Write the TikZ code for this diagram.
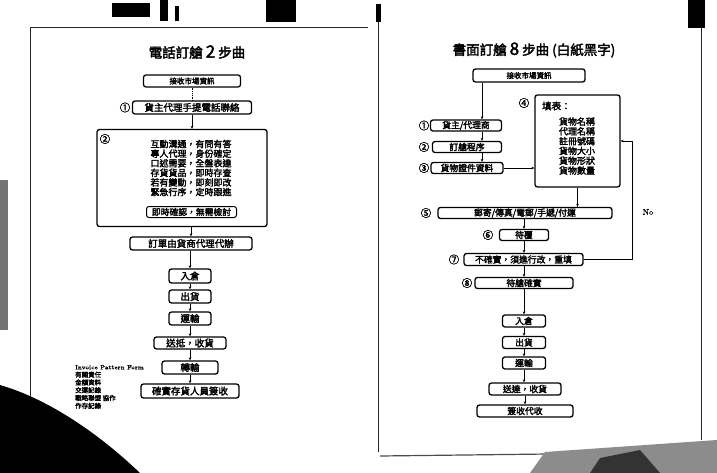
\documentclass[tikz,border=0pt]{standalone}
\usepackage{fontspec}
\newfontfamily\cjk[FakeBold=2.4]{Noto Sans CJK TC}
\newfontfamily\legfont[FakeBold=2]{Latin Modern Roman}
\usetikzlibrary{arrows.meta}
\begin{document}
\begin{tikzpicture}[x=1pt,y=-1pt,
  box/.style={draw, line width=1.3pt, rounded corners=2.5pt, inner sep=0pt,
    font=\cjk\fontsize{9.5}{10}\selectfont, align=center},
  rbox/.style={box, font=\cjk\fontsize{8.8}{9.5}\selectfont},
  smallbox/.style={box, font=\cjk\fontsize{7.5}{8}\selectfont},
  conn/.style={line width=0.8pt, -{Stealth[length=3pt,width=2.6pt]}},
  plain/.style={line width=0.8pt},
  num/.style={font=\cjk\fontsize{10.5}{10.5}\selectfont, inner sep=0pt},
  ttl/.style={font=\cjk\fontsize{13.5}{13.5}\selectfont, inner sep=0pt},
  edge/.style={line width=0.9pt, black!85},
  blob/.style={fill=black}]
\useasboundingbox (0,0) rectangle (717,473);
\fill[white] (0,0) rectangle (717,473);

% ---------- scan decorations ----------
\draw[edge] (30,28) -- (30,446);
\draw[edge] (30,27) -- (368,27);
\draw[edge] (378,22) -- (378,452);
\draw[edge] (701,28) -- (701,440);
\draw[line width=1.2pt, black!70] (380,456) -- (717,452);
\fill[blob] (112,3) rectangle (150,17);
\fill[blob] (160,0) rectangle (168,21);
\fill[blob] (175,6) rectangle (179,21);
\fill[blob] (266,0) rectangle (296,22);
\fill[blob] (376,4) rectangle (381,22);
\fill[blob] (688,0) rectangle (705,28);
\fill[blob] (0,385) .. controls (45,398) and (95,430) .. (140,473) -- (0,473) -- cycle;
\fill[black!55] (0,180) rectangle (8,330);
\fill[black!45] (545,452) -- (717,440) -- (717,473) -- (530,473) -- cycle;
\fill[black!80] (600,458) -- (640,450) -- (660,473) -- (590,473) -- cycle;

% ---------- left page ----------
\node[ttl] (ltitle) at (197,52) {電話訂艙 {\fontsize{17}{17}\selectfont 2} 步曲};

\node[smallbox, minimum width=97pt, minimum height=12pt] (l0) at (192,81) {接收市場資訊};
\node[box, minimum width=119pt, minimum height=13pt] (l1) at (192,107.5) {貨主代理手提電話聯絡};
\node[num] (n1) at (125,107.5) {①};

\node[draw, line width=1.3pt, rounded corners=2.5pt, minimum width=170pt, minimum height=97pt, inner sep=0pt] (l2) at (182,178) {};
\node[num] (n2) at (105,139) {②};
\node[font=\cjk\fontsize{9}{9.6}\selectfont, align=center, inner sep=0pt] (l2t) at (191,168)
  {互動溝通，有問有答\\專人代理，身份確定\\口述需要，全盤表達\\存貨貨品，即時存查\\若有變動，即刻即改\\緊急行序，定時跟進};
\node[box, line width=1pt, font=\cjk\fontsize{8.8}{9}\selectfont, minimum width=90pt, minimum height=11pt] (l2b) at (191.5,212) {即時確認，無需檢討};

\node[box, minimum width=122pt, minimum height=13pt] (l3) at (191,243.5) {訂單由貨商代理代辦};
\node[box, minimum width=42pt, minimum height=14pt] (l4) at (190,276) {入倉};
\node[box, minimum width=42pt, minimum height=13pt] (l5) at (190,296.5) {出貨};
\node[box, minimum width=42pt, minimum height=13pt] (l6) at (190,318.5) {運輸};
\node[box, minimum width=72pt, minimum height=12pt] (l7) at (190,343) {送抵，收貨};
\node[box, minimum width=56pt, minimum height=13pt] (l8) at (190,367.5) {轉輸};
\node[box, minimum width=98pt, minimum height=14pt] (l9) at (190,391) {確實存貨人員簽收};

\draw[plain, densely dotted] (l0.south) -- (l1.north);
\draw[conn] (l1.south) -- (l1.south |- l2.north);
\draw[conn] (l3.north |- l2.south) -- (l3.north);
\draw[conn] (l3.south -| l4.north) -- (l4.north);
\draw[conn] (l4.south) -- (l5.north);
\draw[conn] (l5.south) -- (l6.north);
\draw[conn] (l6.south) -- (l7.north -| l6.south);
\draw[conn] (l7.south -| l8.north) -- (l8.north);
\draw[conn] (l8.south) -- (l9.north -| l8.south);

\node[anchor=north west, align=left, inner sep=0pt, font=\cjk\fontsize{6.5}{7.8}\selectfont] (leg) at (75,365)
  {{\legfont\fontsize{6}{7.8}\selectfont Invoice Pattern Form}\\有關責任\\金額資料\\交運記錄\\戰略聯盟 協作\\作存記錄};

% ---------- right page ----------
\node[ttl] (rtitle) at (534,50) {書面訂艙 {\fontsize{17}{17}\selectfont 8} 步曲 (白紙黑字)};

\coordinate (ax) at (482,0);
\coordinate (fb) at (632,0);

\node[smallbox, minimum width=112pt, minimum height=13pt] (r0) at (529,75.5) {接收市場資訊};
\node[rbox, minimum width=71pt, minimum height=11pt] (r1) at (466,125.5) {貨主/代理商};
\node[num] (m1) at (424,125.5) {①};
\node[rbox, minimum width=69pt, minimum height=11pt] (r2) at (467,147) {訂艙程序};
\node[num] (m2) at (424,147) {②};
\node[rbox, minimum width=72pt, minimum height=11pt] (r3) at (467,168) {貨物證件資料};
\node[num] (m3) at (424,168) {③};

\node[draw, line width=1.3pt, rounded corners=2.5pt, minimum width=85pt, minimum height=92pt, inner sep=0pt] (r4) at (577.5,141) {};
\node[num] (m4) at (524,103) {④};
\node[font=\cjk\fontsize{9.5}{9.5}\selectfont, anchor=west, inner sep=0pt] (r4h) at (542,106) {填表：};
\node[font=\cjk\fontsize{9}{9.8}\selectfont, align=center, inner sep=0pt] (r4t) at (577,146)
  {貨物名稱\\代理名稱\\註冊號碼\\貨物大小\\貨物形狀\\貨物數量};

\node[rbox, minimum width=174pt, minimum height=11pt] (r5) at (525,213) {郵寄/傳真/電郵/手遞/付運};
\node[num] (m5) at (426,213) {⑤};
\node[rbox, minimum width=49pt, minimum height=11pt] (r6) at (524,235) {待覆};
\node[num] (m6) at (488,235) {⑥};
\node[rbox, minimum width=119pt, minimum height=12pt] (r7) at (523.5,259.5) {不確實，須進行改，重填};
\node[num] (m7) at (454,259.5) {⑦};
\node[rbox, minimum width=98pt, minimum height=11pt] (r8) at (524,283) {待艙確實};
\node[num] (m8) at (467,283) {⑧};
\node[rbox, minimum width=43pt, minimum height=12pt] (r9) at (524,321) {入倉};
\node[rbox, minimum width=43pt, minimum height=12pt] (r10) at (524,342.5) {出貨};
\node[rbox, minimum width=43pt, minimum height=12pt] (r11) at (524,363) {運輸};
\node[rbox, minimum width=72pt, minimum height=12pt] (r12) at (525,389) {送達，收貨};
\node[rbox, minimum width=96pt, minimum height=12pt] (r13) at (525,411) {簽收代收};

\draw[conn] (r0.south -| ax) -- (r1.north -| ax);
\draw[conn] (r1.south -| ax) -- (r2.north -| ax);
\draw[conn] (r2.south -| ax) -- (r3.north -| ax);
\draw[conn] (r3.east) -- (r3.east -| r4.west);
\draw[conn] (r4.south) -- (r4.south |- r5.north);
\draw[conn] (r5.south -| r6.north) -- (r6.north);
\draw[conn] (r6.south) -- (r7.north -| r6.south);
\draw[conn] (r7.south -| r8.north) -- (r8.north);
\draw[conn] (r8.south) -- (r9.north -| r8.south);
\draw[conn] (r9.south) -- (r10.north);
\draw[conn] (r10.south) -- (r11.north);
\draw[conn] (r11.south) -- (r12.north -| r11.south);
\draw[conn] (r12.south -| r13.north) -- (r13.north);
\draw[conn] (r7.east) -- (r7.east -| fb) -- (r4.east -| fb) -- (r4.east);
\node[font=\legfont\fontsize{8}{8}\selectfont, inner sep=0pt] (no) at (648,212) {No};
\end{tikzpicture}
\end{document}
